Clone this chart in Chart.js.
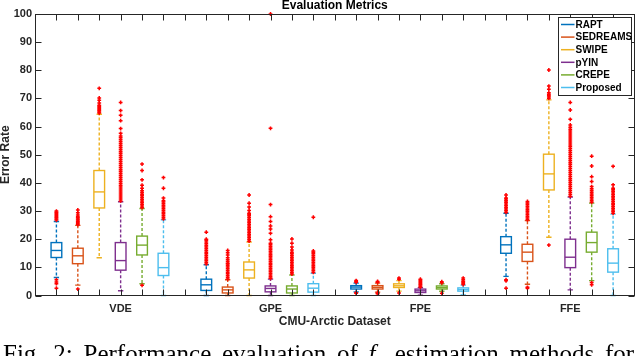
<!DOCTYPE html>
<html><head><meta charset="utf-8">
<script src="https://cdn.jsdelivr.net/npm/chart.js@4.4.0/dist/chart.umd.min.js"></script>
<style>
html,body{margin:0;padding:0;background:#fff;width:640px;height:356px;overflow:hidden;}
#wrap{position:relative;width:640px;height:356px;overflow:hidden;}
canvas{position:absolute;left:0;top:0;}
#cap{position:absolute;left:3px;top:340.5px;font-family:'Liberation Serif','Times New Roman',serif;font-size:25px;line-height:25px;white-space:nowrap;color:#000;word-spacing:4.5px;}
#cap sub{font-size:17px;}
</style></head><body>
<div id="wrap"><canvas id="c" width="640" height="356"></canvas>
<div id="cap">Fig. 2: Performance evaluation of <i>f</i><sub>0</sub> estimation methods for</div></div>
<script>
const categories = ['VDE', 'GPE', 'FPE', 'FFE'];
const methods = ['RAPT', 'SEDREAMS', 'SWIPE', 'pYIN', 'CREPE', 'Proposed'];
const yTickValues = [0, 10, 20, 30, 40, 50, 60, 70, 80, 90, 100];

// [lower whisker, Q1, median, Q3, upper whisker] for VDE, GPE, FPE, FFE
const raptStats = [[6.4,13.5,16.0,18.8,26.3],[0,1.8,3.8,5.8,10.9],[1.3,2.3,3.0,3.5,4.4],[6.8,15.0,18.0,20.9,29.2]];
const sedreamsStats = [[3.7,11.3,14.1,16.8,24.9],[0,0.9,2.0,3.0,5.6],[1.2,2.3,2.9,3.5,4.4],[4.0,12.1,15.4,18.2,26.6]];
const swipeStats = [[13.4,31.1,36.8,44.4,64.4],[0,6.2,9.1,11.9,19.0],[1.55,2.85,3.45,4.15,5.3],[20.7,37.5,43.2,50.2,69.5]];
const pyinStats = [[1.7,9.0,12.4,18.8,33.3],[0,1.3,2.5,3.4,5.8],[0.1,1.07,1.67,2.27,2.8],[2.0,9.9,13.6,20.0,35.0]];
const crepeStats = [[4.2,14.4,17.9,21.1,30.9],[0,0.9,2.3,3.4,7.3],[1.5,2.3,2.8,3.4,4.2],[5.3,15.4,18.8,22.5,32.8]];
const proposedStats = [[0,7.1,9.9,15.0,26.9],[0,1.2,2.6,4.2,7.9],[0.2,1.55,2.1,2.7,3.7],[0,8.3,11.5,16.6,28.9]];

// outliers for VDE, GPE, FPE, FFE
const raptOut = [
  [26.8,27.2,27.6,28.0,28.4,28.8,29.2,29.6,30.0,5.6,4.8,4.2,2.6],
  [11.2,11.8,12.4,13.0,13.6,14.2,14.8,15.4,16.0,16.6,17.2,17.8,18.4,19.0,19.6,20.0,22.5],
  [4.7,5.0,5.3,1.0,0.8],
  [29.5,30.1,30.7,31.3,31.9,32.5,33.1,33.7,34.3,34.6,35.7,5.6,5.2,2.6]
];
const sedreamsOut = [
  [25.2,25.6,26.0,26.4,26.8,27.2,27.6,28.0,28.6,29.4,30.4,2.3],
  [5.9,6.5,7.1,7.7,8.3,8.9,9.5,10.1,10.7,11.2,11.5,12.1,12.7,13.4,14.4,15.2,16.0],
  [4.7,5.0,0.9,0.6],
  [26.9,27.5,28.1,28.7,29.3,29.9,30.5,31.1,31.7,32.3,32.9,33.4,2.9,2.6]
];
const swipeOut = [
  [64.8,65.2,65.6,66.0,66.4,66.8,67.2,67.6,68.4,69.4,70.2,73.6],
  [19.3,19.9,20.5,21.1,21.7,22.3,22.9,23.5,24.1,24.7,25.3,25.9,26.5,27.1,27.7,28.3,28.9,29.2,30.2,31.4,32.8,35.7],
  [5.8,6.2,0.9],
  [70.0,70.5,71.0,71.5,72.0,73.3,74.4,80.1,17.9]
];
const pyinOut = [
  [33.6,34.3,35.0,35.7,36.4,37.1,37.8,38.5,39.2,39.9,40.6,41.3,42.0,42.7,43.4,44.1,44.8,45.5,46.2,46.9,47.6,48.3,49.0,49.7,50.4,51.1,51.8,52.5,53.2,53.9,54.6,55.3,56.0,56.7,57.6,59.3,62.1,64.0,65.7,68.6],
  [6.1,6.7,7.3,7.9,8.5,9.1,9.7,10.3,10.9,11.5,12.1,12.7,13.3,13.9,14.5,15.1,15.7,16.3,16.9,17.5,18.1,18.6,19.8,22.1,23.6,24.7,26.3,28.0,32.3,59.4,100],
  [3.0,3.4,3.8,4.2,4.6,5.0,5.4,5.8],
  [35.3,36.0,36.7,37.4,38.1,38.8,39.5,40.2,40.9,41.6,42.3,43.0,43.7,44.4,45.1,45.8,46.5,47.2,47.9,48.6,49.3,50.0,50.7,51.4,52.1,52.8,53.5,54.2,54.9,55.6,56.3,57.0,57.7,58.4,59.1,59.8,60.6,62.6,65.9,68.6]
];
const crepeOut = [
  [31.2,31.8,32.4,33.0,33.6,34.2,34.8,35.4,36.0,36.6,37.2,38.1,39.2,41.1,44.4,46.7,3.6],
  [7.6,8.2,8.8,9.4,10.0,10.6,11.2,11.8,12.4,13.0,13.6,14.2,14.8,15.4,16.2,17.2,18.6,20.1],
  [4.5,4.9,0.8],
  [33.1,33.7,34.3,34.9,35.5,36.1,36.7,37.3,37.9,38.7,40.5,42.2,46.0,49.5,4.6,3.8]
];
const proposedOut = [
  [27.2,27.8,28.4,29.0,29.6,30.2,30.8,31.4,32.0,32.6,33.2,33.7,34.6,38.1,41.9],
  [8.2,8.8,9.4,10.0,10.6,11.2,11.8,12.4,13.0,13.6,14.2,14.8,15.4,15.8,27.8],
  [3.9,4.3,4.7,5.1,5.6,6.2],
  [29.2,29.8,30.4,31.0,31.6,32.2,32.8,33.4,34.0,34.6,35.2,35.8,36.4,37.0,37.6,38.1,39.3,45.9]
];

const allStats = [raptStats, sedreamsStats, swipeStats, pyinStats, crepeStats, proposedStats];
const allOut = [raptOut, sedreamsOut, swipeOut, pyinOut, crepeOut, proposedOut];
const colors = ['#0072BD', '#D95319', '#EDB120', '#7E2F8E', '#77AC30', '#4DBEEE'];
const axisColor = '#262626';
const FONT = "'Liberation Sans', Arial, Helvetica, sans-serif";

const slot = methods.length + 1;               // 6 boxes + 1 gap
const pos = (g, m) => g * slot + m + 1;
const labelPos = g => g * slot + 4;
const xMax = categories.length * slot;

const datasets = methods.map((name, m) => ({
  label: name,
  type: 'scatter',
  data: allOut[m].flatMap((vals, g) => vals.map(v => ({x: pos(g, m), y: v}))),
  pointStyle: 'cross',
  pointRadius: 1.9,
  borderColor: '#ff0000',
  backgroundColor: '#ff0000',
  borderWidth: 1.5,
  clip: false
}));

const boxPlugin = {
  id: 'boxes',
  beforeDatasetsDraw(chart) {
    const {ctx, scales: {x, y}} = chart;
    const unit = x.getPixelForValue(1) - x.getPixelForValue(0);
    const bw = unit * 0.5;
    allStats.forEach((stats, m) => {
      stats.forEach((s, g) => {
        const cx = x.getPixelForValue(pos(g, m));
        const [lo, q1, med, q3, hi] = s.map(v => y.getPixelForValue(v));
        ctx.save();
        ctx.strokeStyle = colors[m];
        ctx.lineWidth = 1.4;
        ctx.setLineDash([3, 2]);
        ctx.beginPath();
        ctx.moveTo(cx, q3); ctx.lineTo(cx, hi);
        ctx.moveTo(cx, q1); ctx.lineTo(cx, lo);
        ctx.stroke();
        ctx.setLineDash([]);
        ctx.beginPath();
        ctx.moveTo(cx - bw / 4, hi); ctx.lineTo(cx + bw / 4, hi);
        ctx.moveTo(cx - bw / 4, lo); ctx.lineTo(cx + bw / 4, lo);
        ctx.stroke();
        ctx.strokeRect(cx - bw / 2, q3, bw, q1 - q3);
        ctx.beginPath();
        ctx.moveTo(cx - bw / 2, med); ctx.lineTo(cx + bw / 2, med);
        ctx.stroke();
        ctx.restore();
      });
    });
  },
  afterDatasetsDraw(chart) {
    const {ctx, chartArea: a, scales: {x, y}} = chart;
    ctx.save();
    ctx.strokeStyle = axisColor;
    ctx.lineWidth = 1;
    const L = Math.round(a.left) + 0.5, R = Math.round(a.right) - 0.5;
    const T = Math.round(a.top) + 0.5, B = Math.round(a.bottom) - 0.5;
    ctx.strokeRect(L, T, R - L, B - T);
    const tl = 6;
    ctx.beginPath();
    for (let i = 1; i < xMax; i++) {
      const px = Math.round(x.getPixelForValue(i)) + 0.5;
      ctx.moveTo(px, B); ctx.lineTo(px, B - tl);
      ctx.moveTo(px, T); ctx.lineTo(px, T + tl);
    }
    yTickValues.forEach(v => {
      const py = Math.round(y.getPixelForValue(v)) + 0.5;
      ctx.moveTo(L, py); ctx.lineTo(L + tl, py);
      ctx.moveTo(R, py); ctx.lineTo(R - tl, py);
    });
    ctx.stroke();

    // legend box
    const w = 73, h = 78;
    const lx = Math.round(a.right - 4 - w) + 0.5, ly = Math.round(a.top + 3) + 0.5;
    ctx.fillStyle = '#fff';
    ctx.fillRect(lx, ly, w, h);
    ctx.strokeStyle = axisColor;
    ctx.strokeRect(lx, ly, w, h);
    ctx.font = 'bold 10px ' + FONT;
    ctx.textBaseline = 'middle';
    ctx.textAlign = 'left';
    methods.forEach((name, i) => {
      const yy = ly + 7 + i * 12.6;
      ctx.strokeStyle = colors[i];
      ctx.lineWidth = 1.5;
      ctx.beginPath(); ctx.moveTo(lx + 2.5, yy); ctx.lineTo(lx + 16, yy); ctx.stroke();
      ctx.fillStyle = '#000';
      ctx.fillText(name, lx + 17, yy + 0.5);
    });
    ctx.restore();
  }
};

new Chart(document.getElementById('c'), {
  type: 'scatter',
  data: {datasets},
  options: {
    responsive: false,
    animation: false,
    devicePixelRatio: 1,
    events: [],
    layout: {padding: {top: 0, right: 2, bottom: 28, left: 0}},
    plugins: {
      legend: {display: false},
      tooltip: {enabled: false},
      title: {
        display: true, text: 'Evaluation Metrics', fullSize: false, color: '#000',
        font: {family: FONT, size: 12, weight: 'bold', lineHeight: 1},
        padding: {top: 0, bottom: 2}
      }
    },
    scales: {
      x: {
        type: 'linear', min: 0, max: xMax,
        grid: {display: false, drawTicks: false},
        border: {display: false},
        afterBuildTicks: s => { s.ticks = categories.map((c, g) => ({value: labelPos(g)})); },
        ticks: {
          autoSkip: false, maxRotation: 0, padding: 7, color: axisColor,
          font: {family: FONT, size: 11, weight: 'bold'},
          callback: (v, i) => categories[i]
        },
        title: {display: true, text: 'CMU-Arctic Dataset', color: axisColor, padding: 0,
          font: {family: FONT, size: 12, weight: 'bold', lineHeight: 1}},
        afterFit: s => { s.height = 32.5; }
      },
      y: {
        min: 0, max: 100,
        grid: {display: false, drawTicks: false},
        border: {display: false},
        afterBuildTicks: s => { s.ticks = yTickValues.map(v => ({value: v})); },
        ticks: {padding: 3, color: axisColor, font: {family: FONT, size: 11, weight: 'bold'}},
        title: {display: true, text: 'Error Rate', color: axisColor, padding: 0,
          font: {family: FONT, size: 12, weight: 'bold', lineHeight: 1}},
        afterFit: s => { s.width = 35; }
      }
    }
  },
  plugins: [boxPlugin]
});
</script>
</body></html>
